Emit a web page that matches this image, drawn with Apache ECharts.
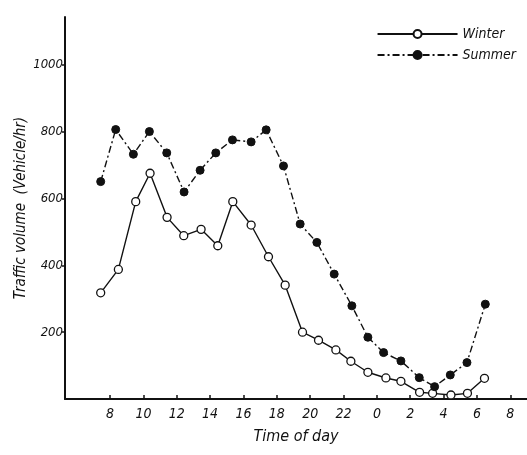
<!DOCTYPE html>
<html>
<head>
<meta charset="utf-8">
<script src="https://cdn.jsdelivr.net/npm/echarts@6/dist/echarts.min.js"></script>
<style>html,body{margin:0;padding:0;background:#fff}#c{width:527px;height:455px}</style>
</head>
<body>
<div id="c"></div>
<script>
// hours on a continuous scale (24 = midnight, 32 = 8 next morning)
const winterHours = [7.44, 8.5, 9.54, 10.4, 11.42, 12.42, 13.46, 14.46, 15.36, 16.46, 17.5, 18.5, 19.54, 20.5, 21.54, 22.44, 23.46, 24.54, 25.44, 26.56, 27.34, 28.44, 29.43, 30.45];
const winterValues = [318, 388, 591, 676, 544, 489, 508, 459, 591, 521, 426, 341, 200, 176, 147, 113, 80, 63, 53, 20, 17, 12, 17, 62];
const summerHours = [7.44, 8.34, 9.4, 10.36, 11.4, 12.44, 13.4, 14.34, 15.34, 16.46, 17.36, 18.4, 19.4, 20.4, 21.44, 22.5, 23.46, 24.4, 25.44, 26.54, 27.46, 28.4, 29.4, 30.5];
const summerValues = [651, 807, 733, 801, 737, 620, 685, 737, 776, 770, 806, 698, 524, 469, 374, 279, 185, 139, 114, 64, 37, 72, 109, 284];
const xTicks = [8, 10, 12, 14, 16, 18, 20, 22, 24, 26, 28, 30, 32];
const yTicks = [200, 400, 600, 800, 1000];

const font = "'Liberation Sans Narrow', 'DejaVu Sans Condensed', 'Liberation Sans', sans-serif";
const chart = echarts.init(document.getElementById('c'), null, {renderer: 'canvas'});
chart.setOption({
  animation: false,
  backgroundColor: '#fff',
  grid: {left: 65, right: 0, top: 17, bottom: 56, containLabel: false, outerBoundsMode: 'none'},
  legend: {
    orient: 'vertical', right: 6, top: 22, itemWidth: 80, itemHeight: 10, itemGap: 7,
    data: ['Winter', 'Summer'],
    textStyle: {fontFamily: font, fontStyle: 'italic', fontSize: 14, color: '#111'}
  },
  xAxis: {
    type: 'value', min: 5.3, max: 33,
    name: 'Time of day', nameLocation: 'middle', nameGap: 30,
    nameTextStyle: {fontFamily: font, fontStyle: 'italic', fontSize: 16, color: '#111'},
    axisLine: {lineStyle: {color: '#111', width: 2}},
    axisTick: {inside: true, length: 4, customValues: xTicks, lineStyle: {color: '#111', width: 1.5}},
    axisLabel: {customValues: xTicks, margin: 8, fontFamily: font, fontStyle: 'italic', fontSize: 14, color: '#111',
      formatter: v => String(Math.round(v) % 24)},
    splitLine: {show: false}
  },
  yAxis: {
    type: 'value', min: 0, max: 1144,
    name: 'Traffic volume  (Vehicle/hr)', nameLocation: 'middle', nameGap: 36, nameMoveOverlap: false,
    nameTextStyle: {fontFamily: font, fontStyle: 'italic', fontSize: 15, color: '#111'},
    axisLine: {show: true, lineStyle: {color: '#111', width: 2}},
    axisTick: {show: true, inside: false, length: 3, customValues: yTicks, lineStyle: {color: '#111', width: 1.5}},
    axisLabel: {customValues: yTicks, margin: 2, fontFamily: font, fontStyle: 'italic', fontSize: 13, color: '#111',
      formatter: v => String(v)},
    splitLine: {show: false}
  },
  series: [
    {
      name: 'Winter', type: 'line',
      data: winterHours.map((h, i) => [h, winterValues[i]]),
      symbol: 'circle', symbolSize: 8,
      itemStyle: {color: '#fff', borderColor: '#111', borderWidth: 1.3},
      lineStyle: {color: '#111', width: 1.4, type: 'solid'}
    },
    {
      name: 'Summer', type: 'line',
      data: summerHours.map((h, i) => [h, summerValues[i]]),
      symbol: 'circle', symbolSize: 8,
      itemStyle: {color: '#111', borderColor: '#111', borderWidth: 1},
      lineStyle: {color: '#111', width: 1.4, type: [7, 3, 2, 3]}
    }
  ]
});
</script>
</body>
</html>
